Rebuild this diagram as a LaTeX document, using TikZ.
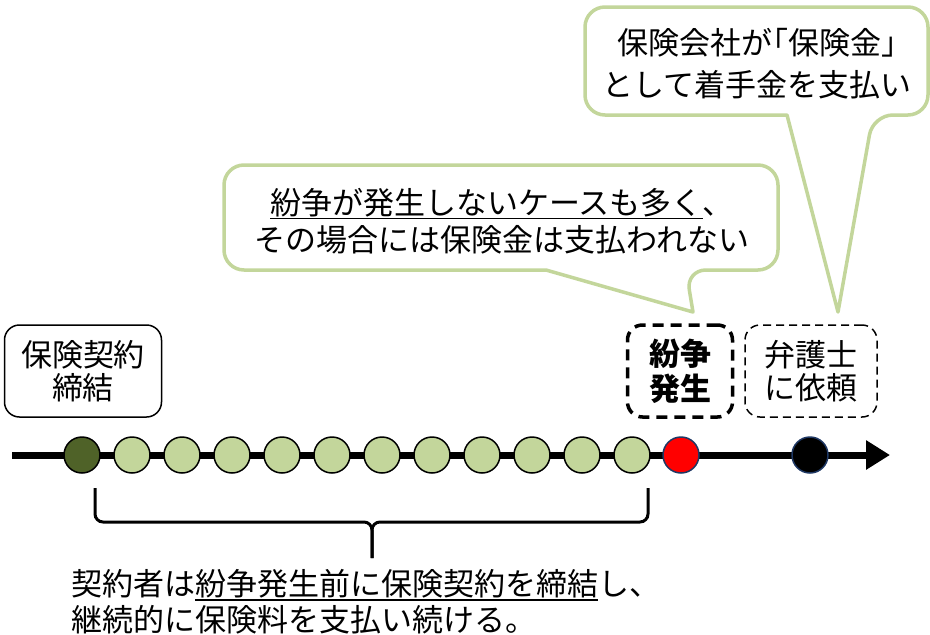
\documentclass[tikz,border=0pt]{standalone}
\usepackage{fontspec}
\setmainfont{Noto Sans CJK JP}
\definecolor{leaf}{RGB}{195, 214, 155}
\definecolor{moss}{RGB}{79, 98, 40}
\definecolor{navy}{RGB}{31, 56, 100}
\usepackage{tikz}
\usetikzlibrary{arrows.meta, positioning, calc}
\newcommand{\undl}[1]{\setbox0\hbox{#1}\rlap{\rule[-5pt]{\wd0}{1.5pt}}\box0}
\newcommand{\halfw}[1]{{\addfontfeature{RawFeature=+halt}#1}}
\tikzset{
    event/.style={rectangle, rounded corners=15pt, minimum width=157pt, minimum height=92pt, inner sep=0pt, align=center, draw=black, line width=1.5pt, font=\fontsize{31}{33}\selectfont},
    bubble/.style={draw=leaf, fill=white, line width=3.5pt, line join=round},
    note/.style={align=center, inner sep=0pt, font=\fontsize{31}{37}\selectfont},
    caption/.style={align=left, inner sep=0pt, font=\fontsize{31}{36}\selectfont},
    premium/.style={circle, minimum size=36pt, inner sep=0pt, draw=black, line width=1.5pt, fill=leaf},
    contract/.style={premium, fill=moss},
    incident/.style={premium, draw=navy, fill=red},
    timeline/.style={line width=7pt, -{Triangle[length=24pt, width=28pt]}},
    bracket/.style={line width=3pt, rounded corners=8pt}
}
\begin{document}
\begin{tikzpicture}[x=1pt, y=-1pt]
    \useasboundingbox (0, 0) rectangle (930, 635);

    % Callouts
    \coordinate (tip1) at (693, 312);
    \coordinate (tip2) at (838, 312);
    \draw[bubble] (546, 270) [rounded corners=20pt] -- (224, 270) -- (224, 165) -- (778, 165) -- (778, 270) -- (686, 270) [sharp corners] -- (tip1) -- cycle;
    \node[note] (nopay) at (502, 221) {\undl{紛争が発生しないケースも多く}、\\その場合には保険金は支払われない};
    \draw[bubble] (787, 115) [rounded corners=20pt] -- (585, 115) -- (585, 7) -- (928, 7) -- (928, 115) -- (873, 115) [sharp corners] -- (tip2) -- cycle;
    \node[note, font=\fontsize{31}{42}\selectfont] (fee) at (757, 64) {保険会社が\halfw{「}保険金\halfw{」}\\として着手金を支払い};

    % Event boxes
    \node[event] (start) at (83, 371) {保険契約\\締結};
    \node[event, minimum width=105pt, line width=3.5pt, dash pattern=on 11pt off 7pt, font=\fontsize{31}{35}\selectfont\bfseries] (trouble) at (680, 371) {紛争\\発生};
    \node[event, minimum width=132pt, dash pattern=on 8pt off 5pt] (ask) at (811, 371) {弁護士\\に依頼};

    % Timeline with premium payments
    \coordinate (t0) at (12, 455);
    \coordinate (t1) at (890, 455);
    \draw[timeline] (t0) -- (t1);
    \node[contract] (c0) at (82, 455) {};
    \foreach \i in {1,...,11}
        \node[premium] (c\i) at (82+50*\i, 455) {};
    \node[incident] (dispute) at (681, 455) {};
    \node[incident, fill=black] (lawyer) at (810, 455) {};

    % Brace under the premiums
    \coordinate (bl) at (95, 488);
    \coordinate (br) at (648, 488);
    \coordinate (bm) at (372, 558);
    \draw[bracket] (bl) |- ($(bm)+(0,-36)$) -- (bm);
    \draw[bracket] (br) |- ($(bm)+(0,-36)$) -- (bm);

    \node[caption, anchor=west] (summary) at (71, 602) {契約者は\undl{紛争発生前に保険契約を締結}し、\\継続的に保険料を支払い続ける。};
\end{tikzpicture}
\end{document}
